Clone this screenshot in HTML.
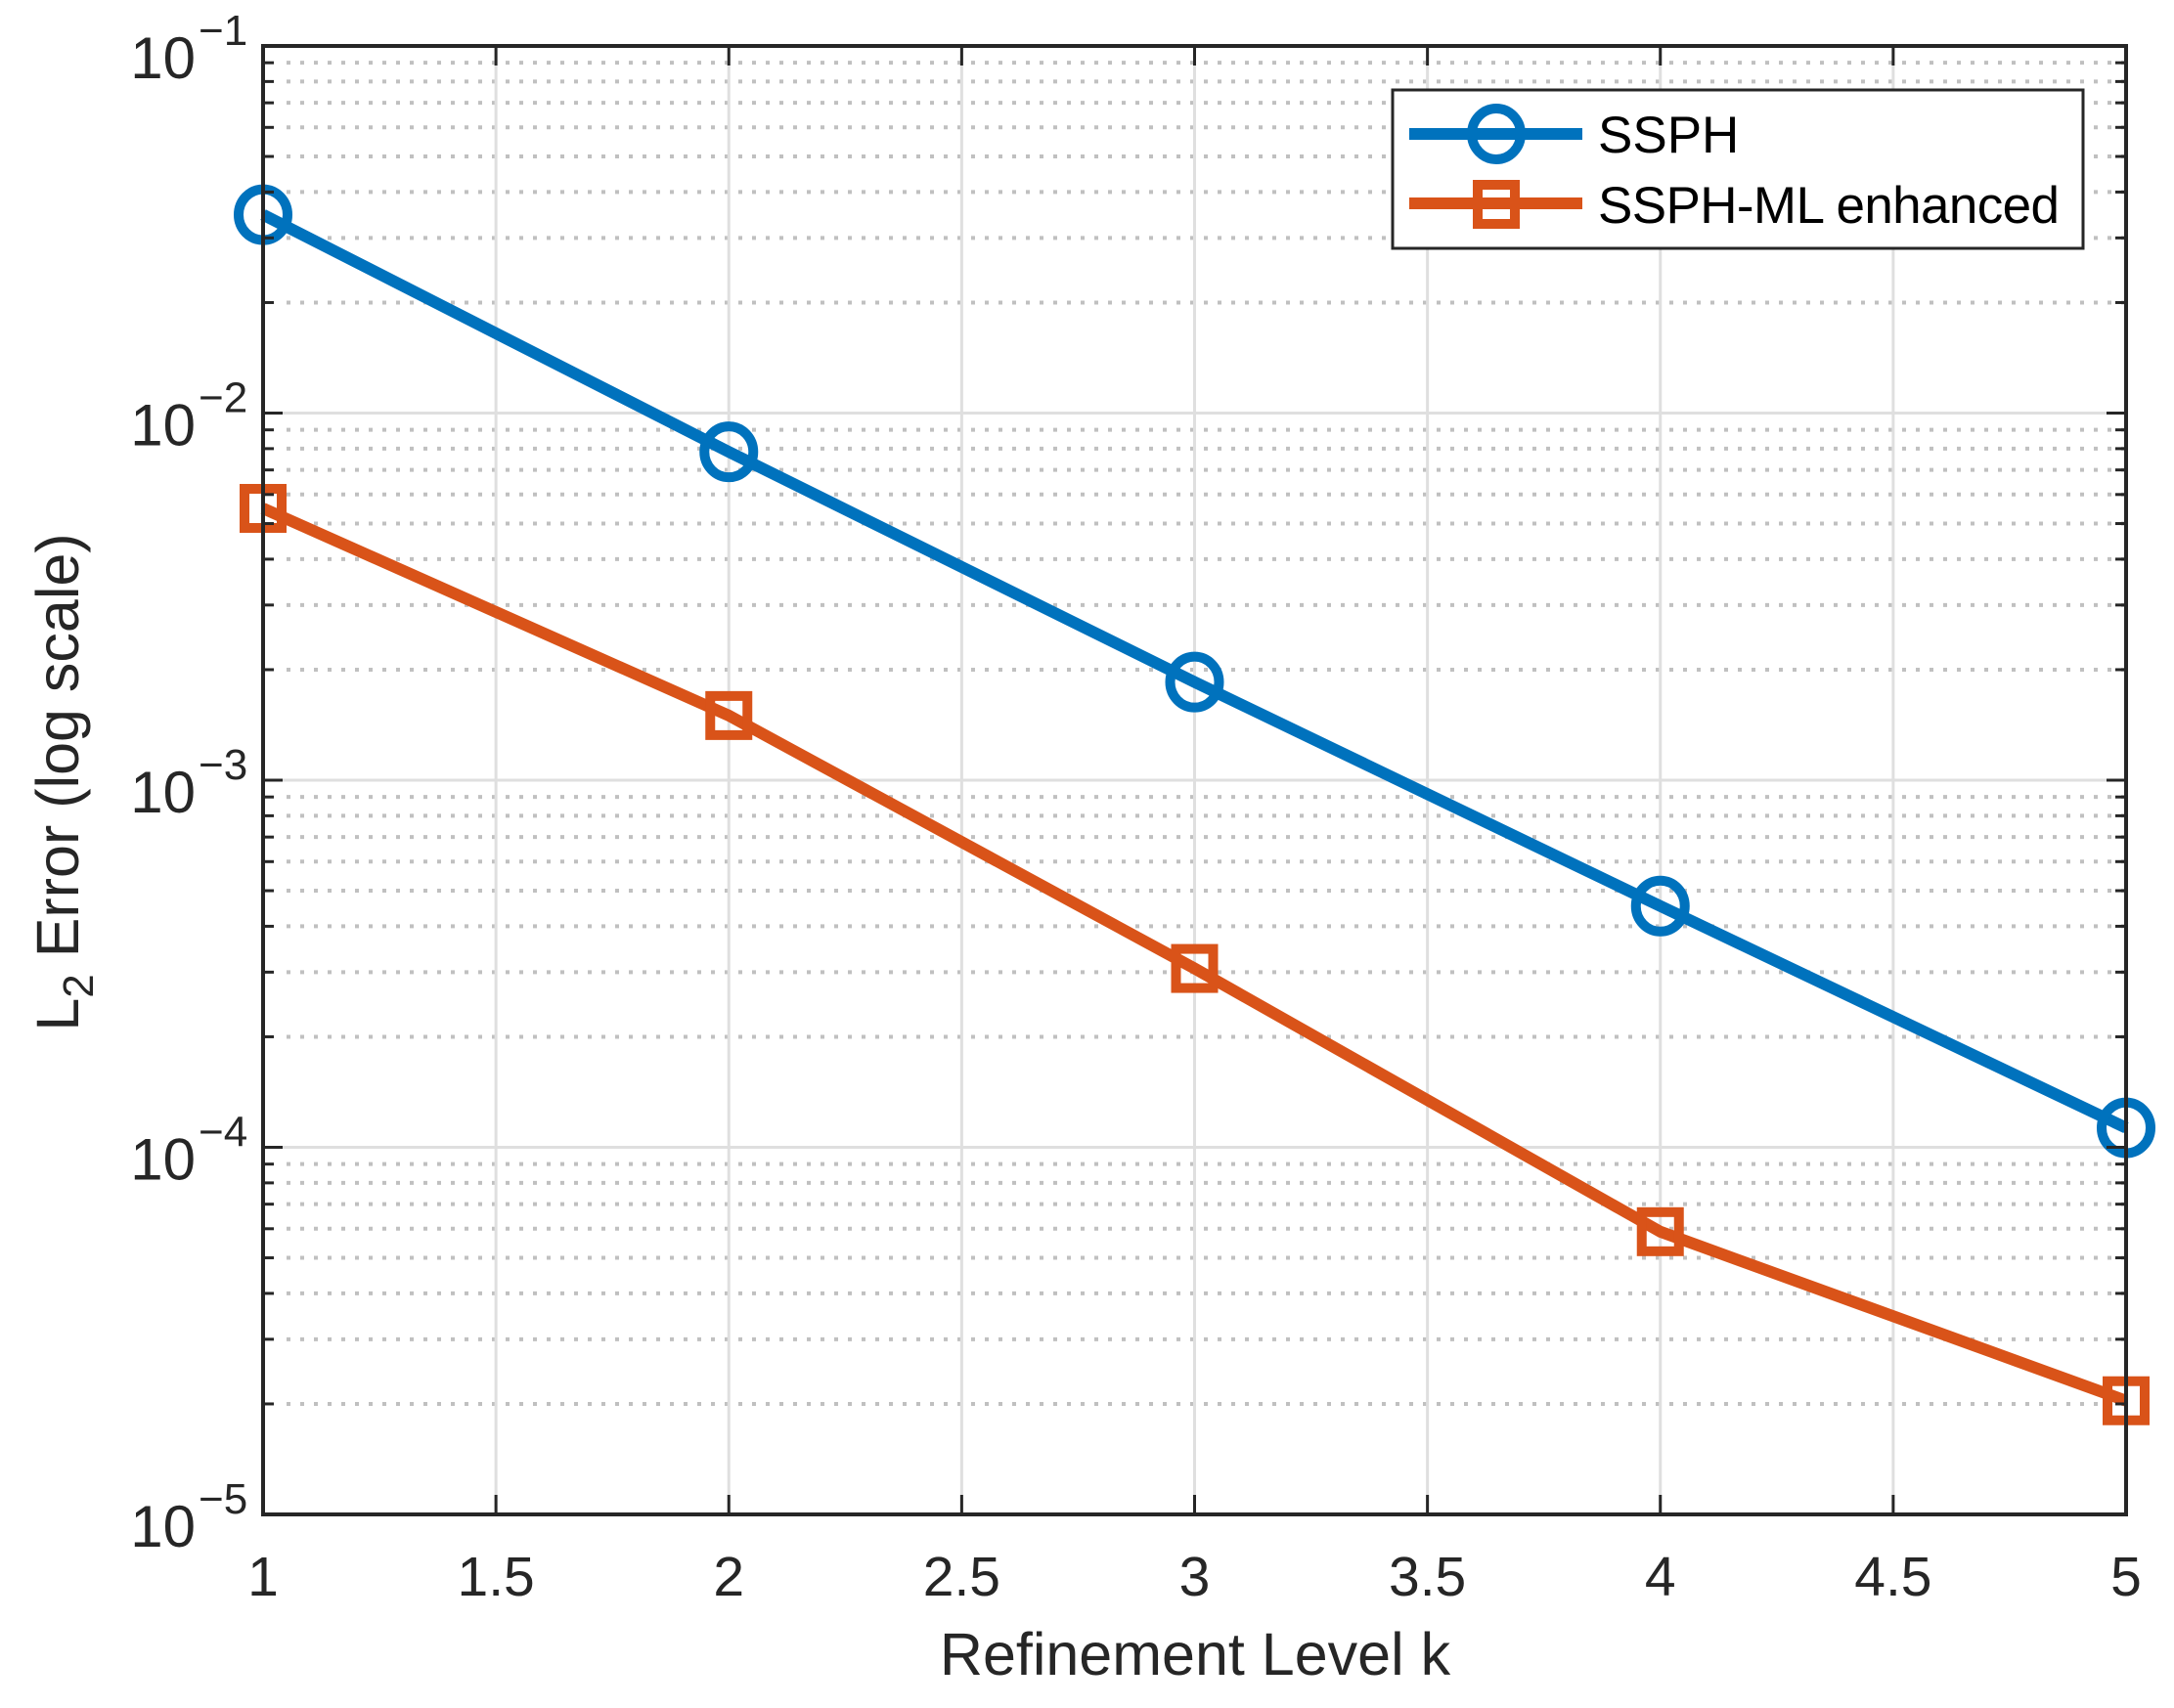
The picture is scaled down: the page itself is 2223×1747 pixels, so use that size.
<!DOCTYPE html>
<html><head><meta charset="utf-8"><style>
html,body{margin:0;padding:0;background:#fff;}
svg{display:block;font-family:"Liberation Sans",sans-serif;}
</style></head><body>
<svg id="chart" width="2223" height="1747" viewBox="0 0 2223 1747" xmlns="http://www.w3.org/2000/svg">
<rect width="2223" height="1747" fill="#fff"/>
<g id="grid"></g>
<g id="series"></g>
<g id="axes"></g>
<text x="1222" y="1713" font-size="61" text-anchor="middle" fill="#262626">Refinement Level k</text>
<text transform="translate(80,800) rotate(-90)" font-size="61" text-anchor="middle" fill="#262626">L<tspan font-size="44" dy="15">2</tspan><tspan dy="-15"> Error (log scale)</tspan></text>
<g>
<rect x="1424" y="92" width="706" height="162" fill="#fff" stroke="#262626" stroke-width="3"/>
<line x1="1441" y1="137" x2="1618" y2="137" stroke="#0072BD" stroke-width="12"/>
<ellipse cx="1530" cy="137" rx="25" ry="26" fill="none" stroke="#0072BD" stroke-width="10"/>
<text x="1634" y="156" font-size="53" fill="#000">SSPH</text>
<line x1="1441" y1="208" x2="1618" y2="208" stroke="#D95319" stroke-width="12"/>
<rect x="1511" y="189" width="38" height="40" fill="none" stroke="#D95319" stroke-width="10"/>
<text x="1634" y="228" font-size="53" fill="#000" textLength="472">SSPH-ML enhanced</text>
</g>
</svg>
<script>
const xTicks=[1,1.5,2,2.5,3,3.5,4,4.5,5];
const xTickLabels=["1","1.5","2","2.5","3","3.5","4","4.5","5"];
const yDecades=[-1,-2,-3,-4,-5];
const yTickLabels=["\u22121","\u22122","\u22123","\u22124","\u22125"];
const kValues=[1,2,3,4,5];
const ssph=[0.0347,0.00784,0.00185,0.000454,0.000113];
const ssphML=[0.0055,0.00150,0.000307,0.0000589,0.0000204];
const L=269,R=2174,T=47,B=1549;
const NS='http://www.w3.org/2000/svg';
function X(v){return L+(v-1)/4*(R-L);}
function Y(v){return T+(-1-Math.log10(v))/4*(B-T);}
function mk(t,a,p){const e=document.createElementNS(NS,t);for(const k in a)e.setAttribute(k,a[k]);p.appendChild(e);return e;}
const grid=document.getElementById('grid'),axes=document.getElementById('axes'),ser=document.getElementById('series');
for(let d=-5;d<-1;d++){for(let m=2;m<=9;m++){const y=Y(m*Math.pow(10,d));
const g=mk('line',{x1:L+24,x2:R,y1:y,y2:y,stroke:'#c0c0c0','stroke-width':4,'stroke-dasharray':'4 10'},grid);


const t1=mk('line',{x1:L,x2:L+11,y1:y,y2:y,stroke:'#262626','stroke-width':3},axes);


const t2=mk('line',{x1:R-11,x2:R,y1:y,y2:y,stroke:'#262626','stroke-width':3},axes);

}}
yDecades.forEach((d,i)=>{const y=Y(Math.pow(10,d));
const g=mk('line',{x1:L,x2:R,y1:y,y2:y,stroke:'#dfdfdf','stroke-width':3},grid);


mk('line',{x1:L,x2:L+20,y1:y,y2:y,stroke:'#262626','stroke-width':3},axes);
mk('line',{x1:R-20,x2:R,y1:y,y2:y,stroke:'#262626','stroke-width':3},axes);
const t=mk('text',{x:200,y:y+33,'font-size':60,'text-anchor':'end',fill:'#262626'},axes);
t.textContent='10';


const e=mk('text',{x:203,y:y-1,'font-size':44,fill:'#262626'},axes);
e.textContent=yTickLabels[i];

});
xTicks.forEach((v,i)=>{const x=X(v);
const g=mk('line',{x1:x,x2:x,y1:T,y2:B,stroke:'#dfdfdf','stroke-width':3},grid);


mk('line',{x1:x,x2:x,y1:B-20,y2:B,stroke:'#262626','stroke-width':3},axes);
mk('line',{x1:x,x2:x,y1:T,y2:T+20,stroke:'#262626','stroke-width':3},axes);
const t=mk('text',{x:x,y:1632,'font-size':57,'text-anchor':'middle',fill:'#262626'},axes);
t.textContent=xTickLabels[i];

});
const box=mk('rect',{x:L,y:T,width:R-L,height:B-T,fill:'none',stroke:'#262626','stroke-width':4},axes);


function series(vals,color,name,sq){
const pts=kValues.map((k,i)=>X(k)+','+Y(vals[i])).join(' ');
const pl=mk('polyline',{points:pts,fill:'none',stroke:color,'stroke-width':12,'stroke-linejoin':'round'},ser);


kValues.forEach((k,i)=>{const x=X(k),y=Y(vals[i]);let m;
if(sq)m=mk('rect',{x:x-19,y:y-20,width:38,height:40,fill:'none',stroke:color,'stroke-width':10},ser);
else m=mk('ellipse',{cx:x,cy:y,rx:25,ry:26,fill:'none',stroke:color,'stroke-width':10},ser);

});}
series(ssph,'#0072BD','ssph',false);
series(ssphML,'#D95319','ssph-ml',true);
</script>
</body></html>
